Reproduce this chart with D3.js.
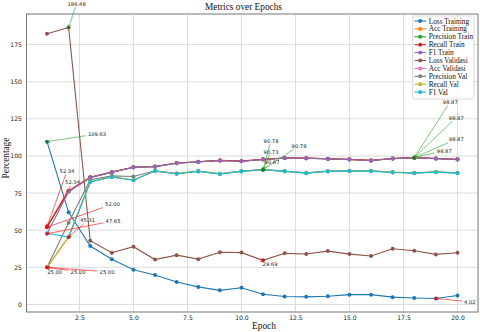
<!DOCTYPE html>
<html><head><meta charset="utf-8">
<script src="https://cdn.jsdelivr.net/npm/d3@7"></script>
<style>body{margin:0;background:#fff}svg{display:block}</style>
</head><body>
<script>
const epochs = [1,2,3,4,5,6,7,8,9,10,11,12,13,14,15,16,17,18,19,20];
const seriesNames = ["Loss Training","Acc Training","Precision Train","Recall Train","F1 Train","Loss Validasi","Acc Validasi","Precision Val","Recall Val","F1 Val"];
const lossTraining   = [109.63,62.0,39.3,30.4,23.4,19.8,15.1,11.8,9.5,11.2,6.8,5.3,5.1,5.5,6.6,6.6,4.9,4.3,4.02,6.0];
const accTraining    = [52.34,76.4,85.6,89.1,92.4,92.9,95.2,96.1,97.0,96.5,97.7,98.6,98.5,98.1,97.7,97.0,98.3,98.87,98.3,97.7];
const precisionTrain = [52.00,76.2,85.5,89.0,92.4,92.8,95.1,96.0,96.9,96.4,97.6,98.5,98.4,98.0,97.6,96.9,98.2,98.87,98.2,97.6];
const recallTrain    = [52.34,76.4,85.6,89.1,92.4,92.9,95.2,96.1,97.0,96.5,97.7,98.6,98.5,98.1,97.7,97.0,98.3,98.87,98.3,97.7];
const f1Train        = [47.65,75.9,85.4,89.0,92.3,92.8,95.1,96.0,96.9,96.4,97.6,98.6,98.5,98.0,97.6,96.9,98.2,98.87,98.2,97.6];
const lossValidasi   = [182.3,186.48,42.9,34.8,38.9,30.2,33.2,30.5,35.1,34.9,29.69,34.4,34.0,35.9,33.9,32.6,37.5,36.2,33.7,34.8];
const accValidasi    = [25.00,45.5,82.6,85.9,83.8,89.9,88.1,89.7,87.9,89.7,90.78,89.7,88.5,89.7,89.9,89.9,89.0,88.5,89.2,88.5];
const precisionVal   = [25.00,55.0,84.0,86.6,86.2,90.0,88.2,89.8,88.0,89.8,90.78,89.8,88.6,89.8,90.0,90.0,89.1,88.6,89.3,88.6];
const recallVal      = [25.00,45.5,82.6,85.9,83.8,89.9,88.1,89.7,87.9,89.7,90.73,89.7,88.5,89.7,89.9,89.9,89.0,88.5,89.2,88.5];
const f1Val          = [47.9,45.31,82.5,85.8,83.6,89.8,88.0,89.6,87.8,89.6,90.67,89.6,88.4,89.6,89.8,89.8,88.9,88.4,89.1,88.4];
const xTicks = [2.5,5.0,7.5,10.0,12.5,15.0,17.5,20.0];
const yTicks = [0,25,50,75,100,125,150,175];

const allSeries = [lossTraining,accTraining,precisionTrain,recallTrain,f1Train,lossValidasi,accValidasi,precisionVal,recallVal,f1Val];
const colors = ["#1f77b4","#ff7f0e","#2ca02c","#d62728","#9467bd","#8c564b","#e377c2","#7f7f7f","#bcbd22","#17becf"];
// annotation text offsets (px, text centre relative to point)
const maxOffsets = [[50,-7.7],[36,-56],[42,-40],[42,-18.4],[30,-7],[8,-24],[8,-29],[36,-24],[8,-18],[9,-7.5]];
const minOffsets = [[34,3.4],[20,-56],[65.5,-23],[25.5,-44.4],[66,-12.6],[7,3.4],[7.7,4.5],[31,4.5],[60,4.5],[19,-17]];

const W=480,H=332;
const L=26.5,R=478,T=14,B=312;
const svg=d3.select("body").append("svg").attr("width",W).attr("height",H);
const x=d3.scaleLinear().domain([0.05,20.95]).range([L,R]);
const y=d3.scaleLinear().domain([-5.1,195.6]).range([B,T]);

// grid
svg.append("g").selectAll("line").data(xTicks).join("line")
  .attr("x1",d=>x(d)).attr("x2",d=>x(d)).attr("y1",T).attr("y2",B)
  .attr("stroke","#d8d8d8").attr("stroke-width",0.9);
svg.append("g").selectAll("line").data(yTicks).join("line")
  .attr("x1",L).attr("x2",R).attr("y1",d=>y(d)).attr("y2",d=>y(d))
  .attr("stroke","#d8d8d8").attr("stroke-width",0.9);

// axes
const xAxis=svg.append("g").attr("transform",`translate(0,${B})`)
  .call(d3.axisBottom(x).tickValues(xTicks).tickFormat(d3.format(".1f")).tickSize(0).tickPadding(4));
const yAxis=svg.append("g").attr("transform",`translate(${L},0)`)
  .call(d3.axisLeft(y).tickValues(yTicks).tickFormat(d3.format("d")).tickSize(0).tickPadding(4.5));
[xAxis,yAxis].forEach(g=>{g.select(".domain").remove();
  g.selectAll("text").attr("font-family","DejaVu Sans").attr("font-size",6.1).attr("fill","#222");});

// frame
svg.append("rect").attr("x",L).attr("y",T).attr("width",R-L).attr("height",B-T)
  .attr("fill","none").attr("stroke","#777").attr("stroke-width",1);

// lines
const line=d3.line().x((d,i)=>x(epochs[i])).y(d=>y(d));
allSeries.forEach((s,k)=>{
  const g=svg.append("g");
  g.append("path").datum(s).attr("d",line).attr("fill","none").attr("stroke",colors[k]).attr("stroke-width",1.1);
  g.selectAll("circle").data(s).join("circle").attr("cx",(d,i)=>x(epochs[i])).attr("cy",d=>y(d)).attr("r",2).attr("fill",colors[k]);
});

// annotations
const ann=svg.append("g");
function annotate(px,py,off,label,col,dot){
  const fs=5.2;
  const cx=px+off[0],cy=py+off[1];
  const hw=label.length*fs*0.33+1,hh=fs*0.6+0.5;
  const vx=px-cx,vy=py-cy;
  const t=Math.min(vx!==0?hw/Math.abs(vx):Infinity,vy!==0?hh/Math.abs(vy):Infinity,1);
  const sx=cx+vx*t,sy=cy+vy*t;
  ann.append("line").attr("x1",sx).attr("y1",sy).attr("x2",px).attr("y2",py)
    .attr("stroke",col).attr("stroke-width",0.8).attr("opacity",0.85);
  const ang=Math.atan2(py-sy,px-sx),hl=3,hwid=0.45;
  ann.append("path").attr("d",`M${px-hl*Math.cos(ang-hwid)},${py-hl*Math.sin(ang-hwid)}L${px},${py}L${px-hl*Math.cos(ang+hwid)},${py-hl*Math.sin(ang+hwid)}`)
    .attr("fill","none").attr("stroke",col).attr("stroke-width",0.8);
  ann.append("circle").attr("cx",px).attr("cy",py).attr("r",1.5).attr("fill",dot);
  ann.append("text").attr("x",cx).attr("y",cy).attr("text-anchor","middle").attr("dominant-baseline","central")
    .attr("font-family","DejaVu Sans").attr("font-size",fs).attr("fill","#222").text(label);
}
allSeries.forEach((s,k)=>{
  const mi=d3.maxIndex(s),ni=d3.minIndex(s);
  annotate(x(epochs[mi]),y(s[mi]),maxOffsets[k],s[mi].toFixed(2),"#3fae3f","#1a7a1a");
  annotate(x(epochs[ni]),y(s[ni]),minOffsets[k],s[ni].toFixed(2),"#ff2020","#e01010");
});

// titles
svg.append("text").attr("x",243.5).attr("y",6.5).attr("text-anchor","middle").attr("dominant-baseline","central")
  .attr("font-family","Liberation Serif").attr("font-size",9.3).attr("fill","#111").text("Metrics over Epochs");
svg.append("text").attr("x",264).attr("y",326).attr("text-anchor","middle").attr("dominant-baseline","central")
  .attr("font-family","Liberation Serif").attr("font-size",9.3).attr("fill","#111").text("Epoch");
svg.append("text").attr("transform","translate(6,158) rotate(-90)").attr("text-anchor","middle").attr("dominant-baseline","central")
  .attr("font-family","Liberation Serif").attr("font-size",9.3).attr("fill","#111").text("Percentage");

// legend
const lg=svg.append("g");
lg.append("rect").attr("x",412.7).attr("y",16).attr("width",61.3).attr("height",83).attr("rx",1.5)
  .attr("fill","#fff").attr("fill-opacity",0.85).attr("stroke","#d0d0d0").attr("stroke-width",0.8);
seriesNames.forEach((n,k)=>{
  const yy=21+k*7.9;
  lg.append("line").attr("x1",414.5).attr("x2",426).attr("y1",yy).attr("y2",yy).attr("stroke",colors[k]).attr("stroke-width",1.1);
  lg.append("circle").attr("cx",420.2).attr("cy",yy).attr("r",2).attr("fill",colors[k]);
  lg.append("text").attr("x",428.7).attr("y",yy).attr("dominant-baseline","central")
    .attr("font-family","Liberation Serif").attr("font-size",7.3).attr("fill","#111").text(n);
});
</script>
</body></html>
